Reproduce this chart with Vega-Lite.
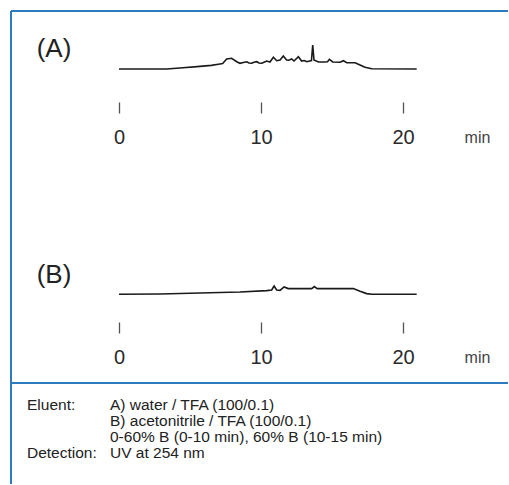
{
  "$schema": "https://vega.github.io/schema/vega-lite/v6.json",
  "width": 509,
  "height": 485,
  "autosize": {"type": "fit", "contains": "padding"},
  "padding": {"left": 10, "top": 10, "right": 0, "bottom": 0},
  "background": "white",
  "config": {"view": {"stroke": null}, "font": "Liberation Sans"},
  "datasets": {
    "traceA": [
      {"t": 0, "signal": 0}, {"t": 3.36, "signal": 0}, {"t": 4.5, "signal": 1.2}, {"t": 5.5, "signal": 2.4},
      {"t": 6.5, "signal": 3.6}, {"t": 7.0, "signal": 4.8}, {"t": 7.3, "signal": 5.5}, {"t": 7.58, "signal": 10},
      {"t": 7.93, "signal": 10.7}, {"t": 8.29, "signal": 7.3}, {"t": 8.52, "signal": 5.7}, {"t": 8.75, "signal": 6.5},
      {"t": 9.0, "signal": 7.2}, {"t": 9.15, "signal": 6}, {"t": 9.34, "signal": 5.7}, {"t": 9.5, "signal": 6.8},
      {"t": 9.7, "signal": 7.3}, {"t": 9.85, "signal": 6}, {"t": 10.05, "signal": 5.7}, {"t": 10.25, "signal": 7},
      {"t": 10.4, "signal": 8}, {"t": 10.63, "signal": 7}, {"t": 10.87, "signal": 11.7}, {"t": 11.1, "signal": 8.3},
      {"t": 11.34, "signal": 9}, {"t": 11.57, "signal": 13}, {"t": 11.8, "signal": 9}, {"t": 11.95, "signal": 8.7},
      {"t": 12.16, "signal": 10}, {"t": 12.32, "signal": 8}, {"t": 12.63, "signal": 12.3}, {"t": 12.86, "signal": 8},
      {"t": 13.05, "signal": 8.5}, {"t": 13.22, "signal": 7.3}, {"t": 13.55, "signal": 8.5}, {"t": 13.64, "signal": 24},
      {"t": 13.73, "signal": 9}, {"t": 14.04, "signal": 7}, {"t": 14.5, "signal": 7}, {"t": 14.68, "signal": 7.3},
      {"t": 14.81, "signal": 9.7}, {"t": 15.05, "signal": 7}, {"t": 15.56, "signal": 6.7}, {"t": 15.8, "signal": 8.3},
      {"t": 16.04, "signal": 6.3}, {"t": 16.62, "signal": 6.3}, {"t": 16.97, "signal": 4}, {"t": 17.32, "signal": 1.7},
      {"t": 17.8, "signal": 0.3}, {"t": 20.96, "signal": 0}
    ],
    "traceB": [
      {"t": 0, "signal": 0}, {"t": 2.89, "signal": 0.3}, {"t": 5.7, "signal": 1.3}, {"t": 8.52, "signal": 2.3},
      {"t": 10.4, "signal": 3.7}, {"t": 10.75, "signal": 4.3}, {"t": 10.92, "signal": 8.3}, {"t": 11.1, "signal": 4.3},
      {"t": 11.34, "signal": 4}, {"t": 11.62, "signal": 7.3}, {"t": 11.92, "signal": 5.7}, {"t": 13.57, "signal": 5.7},
      {"t": 13.75, "signal": 7.7}, {"t": 13.96, "signal": 5.7}, {"t": 16.5, "signal": 5.7}, {"t": 16.97, "signal": 3},
      {"t": 17.44, "signal": 0.7}, {"t": 17.8, "signal": 0}, {"t": 20.96, "signal": 0}
    ],
    "notes": [
      {"line": 1, "col": "label", "text": "Eluent:"},
      {"line": 1, "col": "value", "text": "A) water / TFA (100/0.1)"},
      {"line": 2, "col": "value", "text": "B) acetonitrile / TFA (100/0.1)"},
      {"line": 3, "col": "value", "text": "0-60% B (0-10 min), 60% B (10-15 min)"},
      {"line": 4, "col": "label", "text": "Detection:"},
      {"line": 4, "col": "value", "text": "UV at 254 nm"}
    ]
  },
  "layer": [
    {
      "layer": [
        {
          "data": {"name": "traceA"},
          "mark": {"type": "line", "color": "#1a1a1a", "strokeWidth": 1.6},
          "encoding": {
            "x": {"field": "t", "type": "quantitative",
              "scale": {"domain": [-7.606, 27.39], "nice": false, "zero": false},
              "axis": {"orient": "bottom", "offset": -382, "values": [0, 10, 20], "domain": false, "grid": false,
                "tickSize": 11, "tickWidth": 1.3, "tickColor": "#555", "labelFontSize": 20, "labelColor": "#2a2a2a",
                "labelPadding": 14, "labelFlush": false, "labelOverlap": false, "labelBound": false, "format": "d",
                "title": "min", "titleFontSize": 16, "titleFontWeight": "normal", "titleColor": "#444",
                "titleX": 466, "titleY": 35, "titleAlign": "center", "titleBaseline": "middle", "titleAngle": 0}},
            "y": {"field": "signal", "type": "quantitative",
              "scale": {"domain": [-415, 58], "nice": false, "zero": false}, "axis": null}
          }
        },
        {
          "data": {"values": [{"panel": "(A)"}]},
          "mark": {"type": "text", "fontSize": 26, "color": "#222", "align": "center", "baseline": "middle"},
          "encoding": {"text": {"field": "panel"}, "x": {"datum": -4.58}, "y": {"datum": 20}}
        },
        {
          "data": {"values": [{"panel": "(A)"}]},
          "mark": {"type": "rule", "color": "#2b7bbd", "strokeWidth": 2},
          "encoding": {"y": {"datum": 58}}
        },
        {
          "data": {"values": [{"panel": "(A)"}]},
          "mark": {"type": "rule", "color": "#2b7bbd", "strokeWidth": 2},
          "encoding": {"y": {"datum": -314}}
        },
        {
          "data": {"values": [{"panel": "(A)"}]},
          "mark": {"type": "rule", "color": "#2b7bbd", "strokeWidth": 2},
          "encoding": {"x": {"datum": -7.606}}
        }
      ]
    },
    {
      "layer": [
        {
          "data": {"name": "traceB"},
          "mark": {"type": "line", "color": "#1a1a1a", "strokeWidth": 1.6},
          "encoding": {
            "x": {"field": "t", "type": "quantitative",
              "scale": {"domain": [-7.606, 27.39], "nice": false, "zero": false},
              "axis": {"orient": "bottom", "offset": -162, "values": [0, 10, 20], "domain": false, "grid": false,
                "tickSize": 11, "tickWidth": 1.3, "tickColor": "#555", "labelFontSize": 20, "labelColor": "#2a2a2a",
                "labelPadding": 14, "labelFlush": false, "labelOverlap": false, "labelBound": false, "format": "d",
                "title": "min", "titleFontSize": 16, "titleFontWeight": "normal", "titleColor": "#444",
                "titleX": 466, "titleY": 35, "titleAlign": "center", "titleBaseline": "middle", "titleAngle": 0}},
            "y": {"field": "signal", "type": "quantitative",
              "scale": {"domain": [-189.7, 283.3], "nice": false, "zero": false}, "axis": null}
          }
        },
        {
          "data": {"values": [{"panel": "(B)"}]},
          "mark": {"type": "text", "fontSize": 26, "color": "#222", "align": "center", "baseline": "middle"},
          "encoding": {"text": {"field": "panel"}, "x": {"datum": -4.58}, "y": {"datum": 19}}
        }
      ]
    },
    {
      "data": {"name": "notes"},
      "mark": {"type": "text", "fontSize": 15.5, "color": "#222", "align": "left", "baseline": "middle"},
      "encoding": {
        "text": {"field": "text"},
        "x": {"field": "col", "type": "nominal", "scale": {"type": "point", "domain": ["label", "value"], "range": [16, 99], "padding": 0}, "axis": null},
        "y": {"field": "line", "type": "quantitative", "scale": {"domain": [5.9375, -23.625], "nice": false, "zero": false}, "axis": null}
      }
    }
  ],
  "resolve": {"scale": {"x": "independent", "y": "independent"}, "axis": {"x": "independent", "y": "independent"}}
}
